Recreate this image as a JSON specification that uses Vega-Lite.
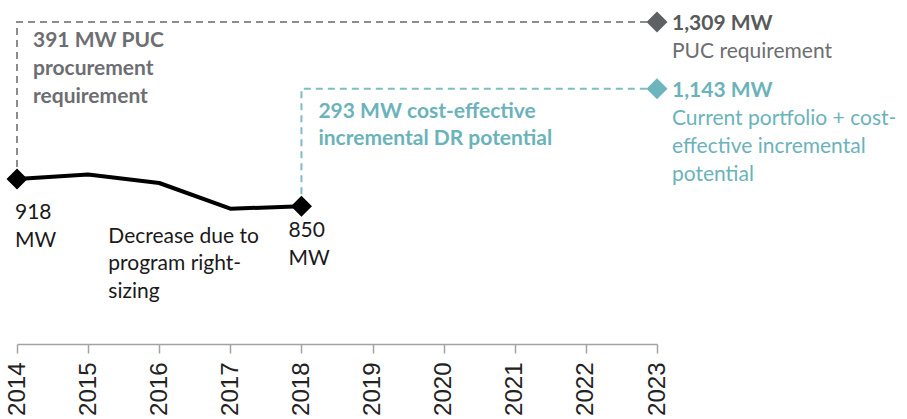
{
  "$schema": "https://vega.github.io/schema/vega-lite/v6.json",
  "width": 640,
  "height": 322,
  "autosize": {"type": "none"},
  "padding": {"left": 17, "top": 22, "right": 250, "bottom": 75},
  "background": "white",
  "config": {
    "view": {"stroke": null},
    "text": {"font": "Lato", "fontSize": 21, "lineBreak": "\n", "lineHeight": 27, "align": "left", "baseline": "alphabetic"}
  },
  "datasets": {
    "paths": [
      {"series": "puc", "step": 1, "year": 2014, "mw": 918},
      {"series": "puc", "step": 2, "year": 2014, "mw": 1309},
      {"series": "puc", "step": 3, "year": 2023, "mw": 1309},
      {"series": "potential", "step": 1, "year": 2018, "mw": 850},
      {"series": "potential", "step": 2, "year": 2018, "mw": 1143},
      {"series": "potential", "step": 3, "year": 2023, "mw": 1143},
      {"series": "actual", "step": 1, "year": 2014, "mw": 918},
      {"series": "actual", "step": 2, "year": 2015, "mw": 929},
      {"series": "actual", "step": 3, "year": 2016, "mw": 908},
      {"series": "actual", "step": 4, "year": 2017, "mw": 844},
      {"series": "actual", "step": 5, "year": 2018, "mw": 850}
    ],
    "points": [
      {"kind": "actual", "year": 2014, "mw": 918},
      {"kind": "actual", "year": 2018, "mw": 850},
      {"kind": "puc", "year": 2023, "mw": 1309},
      {"kind": "potential", "year": 2023, "mw": 1143}
    ],
    "labels": [
      {"id": "a", "year": 2014, "mw": 1309, "text": "391 MW PUC\nprocurement\nrequirement"},
      {"id": "b", "year": 2018, "mw": 1143, "text": "293 MW cost-effective\nincremental DR potential"},
      {"id": "c", "year": 2023, "mw": 1309, "text": "1,309 MW"},
      {"id": "d", "year": 2023, "mw": 1309, "text": "PUC requirement"},
      {"id": "e", "year": 2023, "mw": 1143, "text": "1,143 MW"},
      {"id": "f", "year": 2023, "mw": 1143, "text": "Current portfolio + cost-\neffective incremental\npotential"},
      {"id": "g", "year": 2014, "mw": 918, "text": "918\nMW"},
      {"id": "h", "year": 2017, "mw": 844, "text": "Decrease due to\nprogram right-\nsizing"},
      {"id": "i", "year": 2018, "mw": 850, "text": "850\nMW"}
    ]
  },
  "encoding": {
    "x": {
      "field": "year", "type": "quantitative",
      "scale": {"domain": [2014, 2023], "nice": false, "zero": false},
      "axis": {
        "title": null, "grid": false, "values": [2014, 2015, 2016, 2017, 2018, 2019, 2020, 2021, 2022, 2023],
        "format": "d", "labelAngle": -90, "labelFont": "Liberation Sans", "labelFontSize": 24,
        "labelColor": "#222222", "labelPadding": 9, "tickSize": 9, "tickColor": "#a3a3a3", "tickWidth": 1.5,
        "domainColor": "#a3a3a3", "domainWidth": 1.5, "labelOverlap": false, "labelBound": false, "labelFlush": false
      }
    },
    "y": {
      "field": "mw", "type": "quantitative",
      "scale": {"domain": [507, 1309], "nice": false, "zero": false},
      "axis": null
    }
  },
  "layer": [
    {
      "data": {"name": "paths"},
      "transform": [{"filter": "datum.series === 'puc'"}],
      "mark": {"type": "line", "color": "#8c8d90", "strokeWidth": 2, "strokeDash": [7, 5]},
      "encoding": {"order": {"field": "step", "type": "quantitative"}}
    },
    {
      "data": {"name": "paths"},
      "transform": [{"filter": "datum.series === 'potential'"}],
      "mark": {"type": "line", "color": "#82bcc3", "strokeWidth": 2, "strokeDash": [7, 5]},
      "encoding": {"order": {"field": "step", "type": "quantitative"}}
    },
    {
      "data": {"name": "paths"},
      "transform": [{"filter": "datum.series === 'actual'"}],
      "mark": {"type": "line", "color": "#000000", "strokeWidth": 4, "strokeJoin": "round"},
      "encoding": {"order": {"field": "step", "type": "quantitative"}}
    },
    {
      "data": {"name": "points"},
      "mark": {"type": "point", "shape": "diamond", "filled": true, "opacity": 1, "size": 440},
      "encoding": {
        "color": {"field": "kind", "type": "nominal", "legend": null,
          "scale": {"domain": ["actual", "puc", "potential"], "range": ["#000000", "#5f6063", "#6cb5bd"]}}
      }
    },
    {
      "data": {"name": "labels"}, "transform": [{"filter": "datum.id === 'a'"}],
      "mark": {"type": "text", "fontWeight": "bold", "color": "#6d6e71", "dx": 16, "dy": 25, "lineHeight": 28},
      "encoding": {"text": {"field": "text"}}
    },
    {
      "data": {"name": "labels"}, "transform": [{"filter": "datum.id === 'b'"}],
      "mark": {"type": "text", "fontWeight": "bold", "color": "#6bb3ba", "dx": 17, "dy": 29},
      "encoding": {"text": {"field": "text"}}
    },
    {
      "data": {"name": "labels"}, "transform": [{"filter": "datum.id === 'c'"}],
      "mark": {"type": "text", "fontWeight": "bold", "color": "#58595b", "dx": 15, "dy": 8},
      "encoding": {"text": {"field": "text"}}
    },
    {
      "data": {"name": "labels"}, "transform": [{"filter": "datum.id === 'd'"}],
      "mark": {"type": "text", "color": "#6d6e71", "dx": 15, "dy": 36},
      "encoding": {"text": {"field": "text"}}
    },
    {
      "data": {"name": "labels"}, "transform": [{"filter": "datum.id === 'e'"}],
      "mark": {"type": "text", "fontWeight": "bold", "color": "#6bb3ba", "dx": 15, "dy": 8},
      "encoding": {"text": {"field": "text"}}
    },
    {
      "data": {"name": "labels"}, "transform": [{"filter": "datum.id === 'f'"}],
      "mark": {"type": "text", "color": "#6bb3ba", "dx": 15, "dy": 36, "lineHeight": 28},
      "encoding": {"text": {"field": "text"}}
    },
    {
      "data": {"name": "labels"}, "transform": [{"filter": "datum.id === 'g'"}],
      "mark": {"type": "text", "color": "#1a1a1a", "dx": -2, "dy": 40, "lineHeight": 28},
      "encoding": {"text": {"field": "text"}}
    },
    {
      "data": {"name": "labels"}, "transform": [{"filter": "datum.id === 'h'"}],
      "mark": {"type": "text", "color": "#1a1a1a", "dx": -122, "dy": 34, "lineHeight": 27.5},
      "encoding": {"text": {"field": "text"}}
    },
    {
      "data": {"name": "labels"}, "transform": [{"filter": "datum.id === 'i'"}],
      "mark": {"type": "text", "color": "#1a1a1a", "dx": -13, "dy": 31, "lineHeight": 28},
      "encoding": {"text": {"field": "text"}}
    }
  ]
}
